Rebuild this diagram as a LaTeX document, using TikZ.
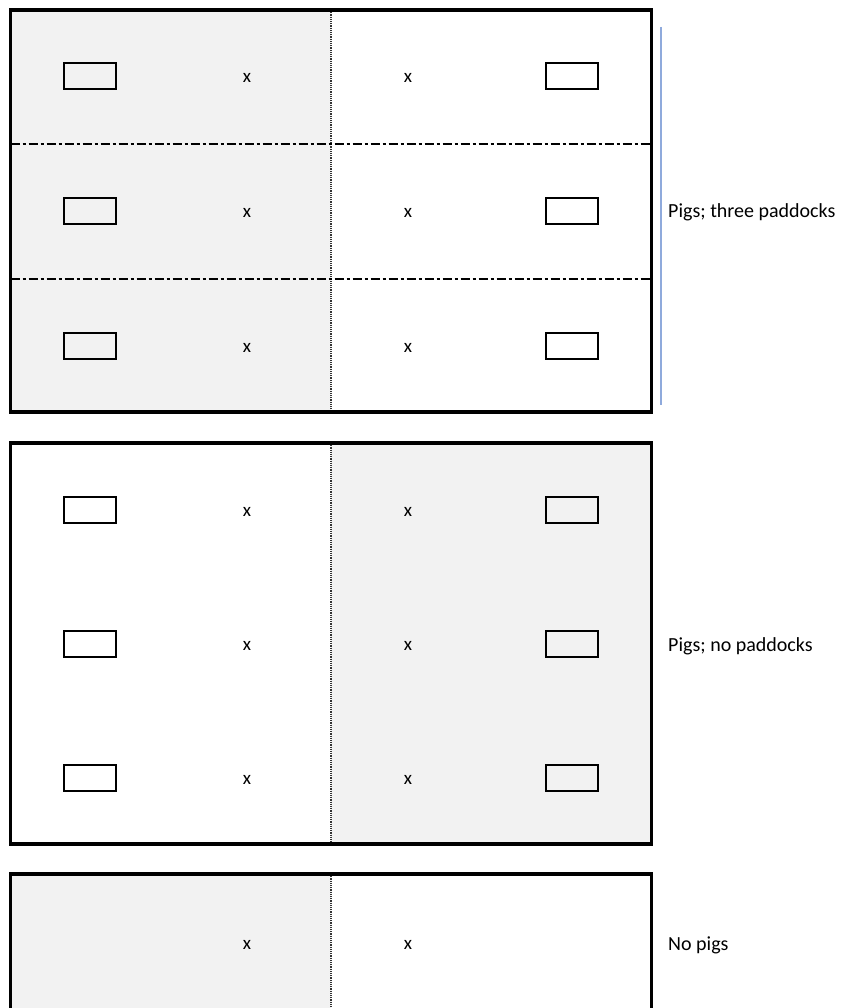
\documentclass[tikz,border=0pt]{standalone}
\usepackage{fontspec}
\setmainfont{Carlito}
\definecolor{shade}{HTML}{F2F2F2}
\definecolor{bracketblue}{HTML}{8FAADC}
\begin{document}
\begin{tikzpicture}[x=1pt,y=-1pt,
  outer/.style={line width=3.2pt, line cap=rect},
  shaded/.style={fill=shade},
  divider/.style={line width=1.1pt, dash pattern=on 1.2pt off 1pt, black!80},
  paddockline/.style={line width=2.5pt, dash pattern=on 9pt off 3pt on 3pt off 3pt},
  feeder/.style={draw, line width=2.2pt, minimum width=52pt, minimum height=26pt, inner sep=0pt},
  xlabel/.style={inner sep=0pt, font=\fontsize{19}{22}\selectfont},
  caption/.style={anchor=west, inner sep=0pt, font=\fontsize{20}{24}\selectfont}
]
\useasboundingbox (0,0) rectangle (840,1008);
\clip (0,0) rectangle (840,1008);
% shading
\fill[shaded] (10.5,10) rectangle (331,412);
\fill[shaded] (331,443) rectangle (651.5,844);
\fill[shaded] (10.5,874) rectangle (331,1020);
% dividers
\draw[divider] (331,10) -- (331,412);
\draw[divider] (331,443) -- (331,844);
\draw[divider] (331,874) -- (331,1020);
% paddock lines
\draw[paddockline] (10.5,144) -- (651.5,144);
\draw[paddockline] (10.5,279) -- (651.5,279);
% outer boxes
\draw[outer] (10.5,10) rectangle (651.5,412);
\draw[outer] (10.5,443) rectangle (651.5,844);
\draw[outer] (10.5,1030) -- (10.5,874) -- (651.5,874) -- (651.5,1030);
% box 1
\foreach \r/\y in {1/76,2/211,3/346}{
  \node[feeder] (fa\r) at (90,\y) {};
  \node[xlabel] (xa\r) at (247,\y+2) {x};
  \node[xlabel] (ya\r) at (408,\y+2) {x};
  \node[feeder] (ga\r) at (572,\y) {};
}
% box 2
\foreach \r/\y in {1/510,2/644,3/778}{
  \node[feeder] (fb\r) at (90,\y) {};
  \node[xlabel] (xb\r) at (247,\y+2) {x};
  \node[xlabel] (yb\r) at (408,\y+2) {x};
  \node[feeder] (gb\r) at (572,\y) {};
}
% box 3
\node[xlabel] (xc) at (247,945) {x};
\node[xlabel] (yc) at (408,945) {x};
% bracket
\coordinate (bt) at (661,27);
\coordinate (bb) at (661,405);
\draw[bracketblue, line width=1.5pt] (bt) -- (bb);
% captions
\node[caption] (c1) at (668,212) {Pigs; three paddocks};
\node[caption] (c2) at (668,646) {Pigs; no paddocks};
\node[caption] (c3) at (668,945) {No pigs};
\end{tikzpicture}
\end{document}
